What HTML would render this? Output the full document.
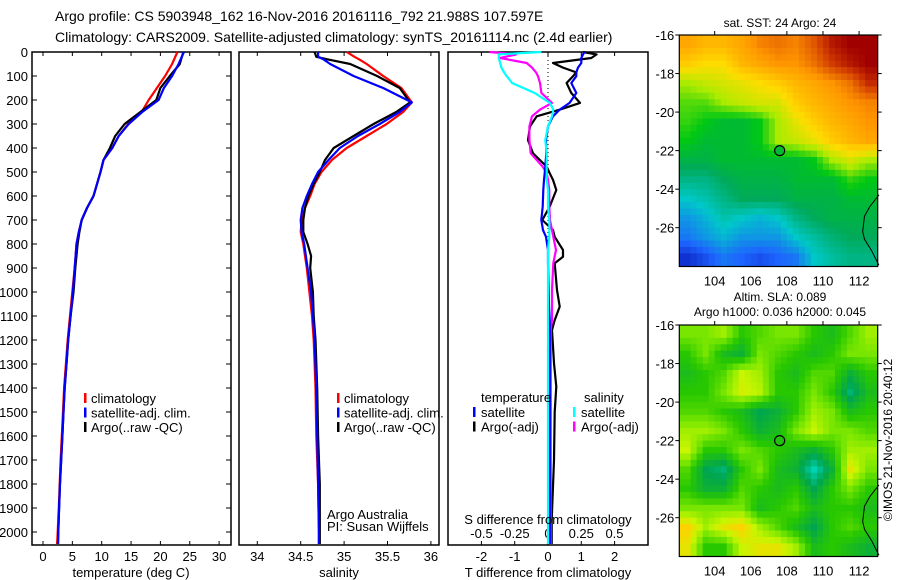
<!DOCTYPE html>
<html><head><meta charset="utf-8">
<style>
html,body{margin:0;padding:0;background:#fff;}
svg{display:block;font-family:"Liberation Sans",sans-serif;}
text{font-size:13px;fill:#000;}
</style></head>
<body>
<svg id="fig" width="900" height="580" viewBox="0 0 900 580" xmlns="http://www.w3.org/2000/svg">
<text x="55" y="21" style="font-size:14px">Argo profile: CS 5903948_162 16-Nov-2016 20161116_792 21.988S 107.597E</text>
<text x="55" y="42" style="font-size:14px">Climatology: CARS2009. Satellite-adjusted climatology: synTS_20161114.nc (2.4d earlier)</text>
<g id="g"></g>
</svg>
<script>
// ---------- DATA ----------
const tDepth = [0,50,100,150,200,250,300,350,400,450,500,550,600,650,700,750,800,900,1000,1100,1200,1300,1400,1500,1600,1700,1800,1900,2000,2050];
const tClim  = [22.9,22.0,20.8,19.4,18.0,16.8,14.5,12.9,11.8,10.3,9.8,9.2,8.6,7.5,6.6,6.1,5.7,5.4,5.0,4.6,4.2,3.9,3.6,3.4,3.2,3.0,2.85,2.7,2.5,2.4];
const tSat   = [24.0,23.1,22.0,20.6,19.7,16.9,14.6,12.9,11.8,10.3,9.8,9.2,8.6,7.5,6.6,6.1,5.7,5.4,5.1,4.7,4.3,4.0,3.7,3.5,3.3,3.1,2.9,2.75,2.6,2.55];
const tArgo  = [23.9,23.3,21.6,20.0,19.3,16.6,13.9,12.3,11.4,10.3,9.8,9.2,8.6,7.5,6.6,6.2,5.9,5.5,5.2,4.7,4.3,4.0,3.7,3.5,3.3,3.1,2.9,2.75,2.6,2.55];
const sDepth = [0,20,30,50,100,150,210,250,300,350,400,450,500,550,600,650,700,750,800,850,900,1000,1100,1200,1400,1600,1800,2000,2050];
const sClim  = [35.03,35.12,35.17,35.26,35.45,35.66,35.78,35.68,35.49,35.26,35.03,34.86,34.74,34.66,34.61,34.55,34.51,34.50,34.53,34.55,34.57,34.60,34.63,34.65,34.67,34.68,34.70,34.71,34.71];
const sSat   = [34.70,34.70,34.76,34.84,35.11,35.45,35.78,35.64,35.41,35.16,34.95,34.82,34.70,34.63,34.57,34.52,34.50,34.51,34.54,34.56,34.58,34.62,34.64,34.66,34.68,34.69,34.70,34.71,34.71];
const sArgo  = [34.66,34.68,34.80,35.07,35.38,35.64,35.76,35.60,35.34,35.11,34.88,34.78,34.72,34.65,34.59,34.55,34.53,34.53,34.58,34.62,34.61,34.64,34.65,34.67,34.69,34.70,34.72,34.72,34.72];
const dDepth = [0,10,25,46,65,85,101,129,171,212,240,268,310,367,422,478,505,533,575,644,700,742,770,825,853,880,992,1061,1117,1158,1297,1394,1500,1700,1950,2050];
const dTSat  = [1.1,1.05,1.0,1.0,0.9,0.85,0.85,0.7,0.85,0.65,0.35,0.15,0.0,-0.06,-0.05,-0.08,-0.1,-0.12,-0.14,-0.16,-0.2,-0.15,-0.06,0.0,0.0,0.0,0.02,0.03,0.05,0.05,0.06,0.06,0.06,0.06,0.06,0.06];
const dTArgo = [1.05,1.46,1.3,0.15,0.45,0.85,0.75,0.56,0.7,0.96,0.36,-0.34,-0.54,-0.6,-0.45,-0.04,0.05,0.15,0.25,0.05,-0.17,0.15,0.2,0.45,0.45,0.2,0.27,0.35,0.2,0.12,0.18,0.25,0.2,0.18,0.11,0.11];
const dSSat  = [-0.05,-0.37,-0.37,-0.36,-0.35,-0.33,-0.31,-0.27,-0.10,0.015,0.04,0.03,0.0,-0.02,-0.01,-0.01,-0.01,-0.01,0.0,0.0,0.01,0.01,0.01,0.0,0.0,0.0,0.0,0.0,0.0,0.0,0.0,0.0,0.0,0.0,0.0,0.0];
const dSArgo = [-0.44,-0.24,-0.36,-0.16,-0.12,-0.09,-0.075,-0.06,-0.05,0.03,-0.06,-0.12,-0.14,-0.14,-0.13,-0.04,-0.01,0.0,0.01,0.01,0.015,0.03,0.04,0.06,0.05,0.04,0.03,0.03,0.03,0.02,0.02,0.02,0.02,0.02,0.02,0.02];
const depthTicks = [0,100,200,300,400,500,600,700,800,900,1000,1100,1200,1300,1400,1500,1600,1700,1800,1900,2000];
const tTicks = [0,5,10,15,20,25,30];
const sTicks = [34,34.5,35,35.5,36];
const sTickLabels = ['34','34.5','35','35.5','36'];
const dTTicks = [-2,-1,0,1,2];
const dSTicks = [-0.5,-0.25,0,0.25,0.5];
const dSTickLabels = ['-0.5','-0.25','0','0.25','0.5'];
const latTicks = [-16,-18,-20,-22,-24,-26];
const lonTicks = [104,106,108,110,112];
const argoLon = 107.6, argoLat = -22.0;
const sstGrid = [
 [0.75,0.72,0.72,0.75,0.80,0.82,0.80,0.85,0.92,0.95,0.95],
 [0.68,0.65,0.65,0.72,0.75,0.78,0.78,0.82,0.88,0.92,0.95],
 [0.55,0.58,0.60,0.62,0.65,0.68,0.72,0.75,0.78,0.82,0.90],
 [0.50,0.50,0.55,0.58,0.60,0.60,0.68,0.72,0.75,0.78,0.80],
 [0.48,0.45,0.42,0.42,0.45,0.55,0.62,0.68,0.72,0.75,0.78],
 [0.45,0.42,0.42,0.42,0.45,0.55,0.58,0.62,0.68,0.72,0.75],
 [0.40,0.40,0.42,0.42,0.42,0.42,0.42,0.45,0.55,0.60,0.55],
 [0.35,0.35,0.38,0.40,0.40,0.40,0.42,0.42,0.42,0.48,0.45],
 [0.30,0.32,0.35,0.38,0.38,0.38,0.40,0.40,0.40,0.42,0.42],
 [0.25,0.28,0.32,0.30,0.28,0.30,0.35,0.38,0.40,0.40,0.40],
 [0.22,0.25,0.28,0.25,0.25,0.25,0.30,0.33,0.36,0.38,0.38],
 [0.15,0.18,0.22,0.20,0.18,0.20,0.22,0.30,0.33,0.35,0.35]];
const slaGrid = [
 [0.60,0.60,0.65,0.50,0.55,0.60,0.60,0.50,0.45,0.55,0.65],
 [0.50,0.60,0.45,0.40,0.60,0.55,0.50,0.45,0.50,0.60,0.60],
 [0.45,0.50,0.55,0.70,0.65,0.50,0.45,0.55,0.55,0.40,0.50],
 [0.50,0.50,0.60,0.72,0.68,0.50,0.50,0.60,0.50,0.30,0.45],
 [0.55,0.55,0.50,0.45,0.35,0.40,0.50,0.65,0.60,0.45,0.50],
 [0.65,0.65,0.60,0.50,0.40,0.45,0.60,0.70,0.60,0.60,0.55],
 [0.70,0.50,0.50,0.60,0.55,0.50,0.45,0.40,0.50,0.65,0.65],
 [0.55,0.35,0.30,0.50,0.60,0.45,0.40,0.20,0.40,0.75,0.60],
 [0.50,0.40,0.40,0.55,0.50,0.45,0.50,0.35,0.50,0.60,0.50],
 [0.60,0.60,0.60,0.60,0.45,0.50,0.55,0.45,0.50,0.50,0.45],
 [0.80,0.65,0.75,0.80,0.65,0.55,0.45,0.35,0.50,0.55,0.50],
 [0.75,0.50,0.50,0.70,0.75,0.75,0.65,0.45,0.50,0.45,0.40]];

// ---------- helpers ----------
const NS='http://www.w3.org/2000/svg';
const G=document.getElementById('g');
function mk(tag,attrs,parent){const e=document.createElementNS(NS,tag);for(const k in attrs)e.setAttribute(k,attrs[k]);(parent||G).appendChild(e);return e;}
function txt(x,y,s,anchor,parent,size){const e=mk('text',{x:x,y:y,'text-anchor':anchor||'start'},parent);if(size)e.style.fontSize=size+'px';e.textContent=s;return e;}
const TOP=52,BOT=545;
const yD=d=>TOP+d*0.24;
const xT=v=>43+v*5.87;
const xS=v=>257.3+(v-34)*86.8;
const xDT=v=>548+v*33.3;
const xDS=v=>548+v*133;

function line(depths,vals,xf,color,name){
  const pts=depths.map((d,i)=>xf(vals[i]).toFixed(1)+','+yD(d).toFixed(1)).join(' ');
  const p=mk('polyline',{points:pts,fill:'none',stroke:color,'stroke-width':2.2,'stroke-linejoin':'round'});
  
  
}
function frame(x0,x1,name){
  const r=mk('rect',{x:x0,y:TOP,width:x1-x0,height:BOT-TOP,fill:'none',stroke:'#000','stroke-width':1.5});
  
  
}

// ---------- panel 1 ----------
frame(32,231,'temperature-panel');
depthTicks.forEach(d=>{
  mk('line',{x1:32,x2:37,y1:yD(d),y2:yD(d),stroke:'#000'});
  mk('line',{x1:226,x2:231,y1:yD(d),y2:yD(d),stroke:'#000'});
  const t=txt(28,yD(d)+5,String(d),'end');
  
  
});
tTicks.forEach(v=>{
  mk('line',{x1:xT(v),x2:xT(v),y1:TOP,y2:TOP+4,stroke:'#000'});
  mk('line',{x1:xT(v),x2:xT(v),y1:BOT-4,y2:BOT,stroke:'#000'});
  const t=txt(xT(v),561,String(v),'middle');
  
  
});
line(tDepth,tClim,xT,'#ff0000','temp-climatology-line');
line(tDepth,tArgo,xT,'#000000','temp-argo-line');
line(tDepth,tSat,xT,'#0000ff','temp-satellite-line');
const xl1=txt(131,577,'temperature (deg C)','middle');



function legend(x,items,name){
  items.forEach((it,i)=>{
    const y=398+i*14.5;
    mk('rect',{x:x,y:y-5,width:2.5,height:10,fill:it[1]});
    const t=txt(x+7,y+5,it[0],'start');
    
    
  });
}
legend(84,[['climatology','#f00'],['satellite-adj. clim.','#00f'],['Argo(..raw -QC)','#000']],'temperature-legend');

// ---------- panel 2 ----------
frame(239,439,'salinity-panel');
sTicks.forEach((v,i)=>{
  mk('line',{x1:xS(v),x2:xS(v),y1:TOP,y2:TOP+4,stroke:'#000'});
  mk('line',{x1:xS(v),x2:xS(v),y1:BOT-4,y2:BOT,stroke:'#000'});
  const t=txt(xS(v),561,sTickLabels[i],'middle');
  
  
});
line(sDepth,sClim,xS,'#ff0000','sal-climatology-line');
line(sDepth,sArgo,xS,'#000000','sal-argo-line');
line(sDepth,sSat,xS,'#0000ff','sal-satellite-line');
const xl2=txt(339,577,'salinity','middle');


legend(337,[['climatology','#f00'],['satellite-adj. clim.','#00f'],['Argo(..raw -QC)','#000']],'salinity-legend');
const aa=txt(327,519,'Argo Australia','start');


const pi=txt(327,531,'PI: Susan Wijffels','start');



// ---------- panel 3 ----------
frame(448,648,'difference-panel');
mk('line',{x1:548,x2:548,y1:TOP,y2:BOT,stroke:'#000','stroke-dasharray':'1,3'});
dTTicks.forEach(v=>{
  mk('line',{x1:xDT(v),x2:xDT(v),y1:TOP,y2:TOP+4,stroke:'#000'});
  mk('line',{x1:xDT(v),x2:xDT(v),y1:BOT-4,y2:BOT,stroke:'#000'});
  const t=txt(xDT(v),561,String(v),'middle');
  
  
});
dSTicks.forEach((v,i)=>{
  const t=txt(xDS(v),538,dSTickLabels[i],'middle');
  
  
});
line(dDepth,dTArgo,xDT,'#000000','t-diff-argo-line');
line(dDepth,dSArgo,xDS,'#ff00ff','s-diff-argo-line');
line(dDepth,dTSat,xDT,'#0000ff','t-diff-satellite-line');
line(dDepth,dSSat,xDS,'#00ffff','s-diff-satellite-line');
const sl=txt(548,524,'S difference from climatology','middle');


const tl=txt(548,577,'T difference from climatology','middle');


const lt=txt(481,402,'temperature','start');


const ls=txt(584,402,'salinity','start');


[['satellite','#00f',473],['Argo(-adj)','#000',473]].forEach((it,i)=>{
  const y=412+i*14.5;
  mk('rect',{x:it[2],y:y-5,width:2.5,height:10,fill:it[1]});
  const t=txt(it[2]+8,y+5,it[0]);
  
  
});
[['satellite','#0ff',573],['Argo(-adj)','#f0f',573]].forEach((it,i)=>{
  const y=412+i*14.5;
  mk('rect',{x:it[2],y:y-5,width:2.5,height:10,fill:it[1]});
  const t=txt(it[2]+8,y+5,it[0]);
  
  
});

// ---------- maps ----------
function lerpCol(stops,v){
  v=Math.max(stops[0][0],Math.min(stops[stops.length-1][0],v));
  for(let i=1;i<stops.length;i++){if(v<=stops[i][0]){const a=stops[i-1],b=stops[i];const f=(v-a[0])/(b[0]-a[0]);
    return 'rgb('+[0,1,2].map(k=>Math.round(a[1][k]+(b[1][k]-a[1][k])*f)).join(',')+')';}}
  return 'rgb('+stops[stops.length-1][1].join(',')+')';
}
const sstStops=[[0.1,[0,0,160]],[0.2,[30,100,255]],[0.3,[0,200,200]],[0.38,[0,170,90]],[0.45,[0,200,20]],[0.55,[170,235,0]],[0.65,[255,220,0]],[0.78,[255,150,0]],[0.88,[210,60,0]],[0.95,[160,0,0]]];
const slaStops=[[0.2,[0,210,180]],[0.35,[0,165,80]],[0.5,[40,200,0]],[0.6,[120,230,0]],[0.7,[200,245,0]],[0.8,[255,210,0]],[0.9,[255,170,0]]];
function drawMap(top,grid,stops,name){
  const L=679.3,R=877.7,H=231.5;
  const lonX=lo=>L+(lo-102.04)*18.05;
  const latY=la=>top+(-16-la)*19.27;
  const grp=mk('g',{});
  
  
  const sub=3,rows=grid.length,cols=grid[0].length;
  const val=(r,c)=>{r=Math.max(0,Math.min(rows-1,r));c=Math.max(0,Math.min(cols-1,c));
    const r0=Math.floor(r),c0=Math.floor(c),r1=Math.min(rows-1,r0+1),c1=Math.min(cols-1,c0+1),fr=r-r0,fc=c-c0;
    return grid[r0][c0]*(1-fr)*(1-fc)+grid[r0][c1]*(1-fr)*fc+grid[r1][c0]*fr*(1-fc)+grid[r1][c1]*fr*fc;};
  for(let r=0;r<rows*sub;r++)for(let c=0;c<cols*sub;c++){
    const lo0=102+c/sub, la0=-16-r/sub;
    const x0=Math.max(L,lonX(lo0)), x1=Math.min(R,lonX(lo0+1/sub));
    const y0=Math.max(top,latY(la0)), y1=Math.min(top+H,latY(la0-1/sub));
    if(x1<=x0||y1<=y0)continue;
    const v=val((r+0.5)/sub-0.5,(c+0.5)/sub-0.5);
    const cell=mk('rect',{x:x0.toFixed(2),y:y0.toFixed(2),width:(x1-x0+0.6).toFixed(2),height:(y1-y0+0.6).toFixed(2),fill:lerpCol(stops,v)},grp);
    
    
  }
  const coastLon=[113.1,112.6,112.3,112.2,112.3,112.7,113.1];
  const coastLat=[-24.3,-24.9,-25.4,-26.2,-26.6,-27.2,-27.95];
  mk('polyline',{points:coastLon.map((lo,i)=>lonX(lo)+','+latY(coastLat[i])).join(' '),fill:'none',stroke:'#000','stroke-width':1},grp);
  mk('rect',{x:L,y:top,width:R-L,height:H,fill:'none',stroke:'#000','stroke-width':1.2},grp);
  latTicks.forEach(la=>{
    mk('line',{x1:L-4,x2:L,y1:latY(la),y2:latY(la),stroke:'#000'},grp);
    mk('line',{x1:R,x2:R+4,y1:latY(la),y2:latY(la),stroke:'#000'},grp);
    const t=txt(L-5,latY(la)+5,String(la),'end',grp);
    
    
  });
  lonTicks.forEach(lo=>{
    mk('line',{x1:lonX(lo),x2:lonX(lo),y1:top-4,y2:top,stroke:'#000'},grp);
    const t=txt(lonX(lo),top+H+19,String(lo),'middle',grp);
    
    
  });
  const dot=mk('circle',{cx:lonX(argoLon),cy:latY(argoLat),r:5,fill:lerpCol(stops,val(6,5.6)),stroke:'#000','stroke-width':1.2},grp);
  
  
}
drawMap(35,sstGrid,sstStops,'sst-map');
drawMap(325,slaGrid,slaStops,'sla-map');
const m1=txt(780,27,'sat. SST: 24 Argo: 24','middle',null,12);


const m2=txt(780,301,'Altim. SLA: 0.089','middle',null,12);


const m3=txt(780,316,'Argo h1000: 0.036 h2000: 0.045','middle',null,12);


const cr=txt(0,0,'©IMOS 21-Nov-2016 20:40:12','middle',null,12);
cr.setAttribute('transform','translate(892,440) rotate(-90)');


</script>
</body></html>
